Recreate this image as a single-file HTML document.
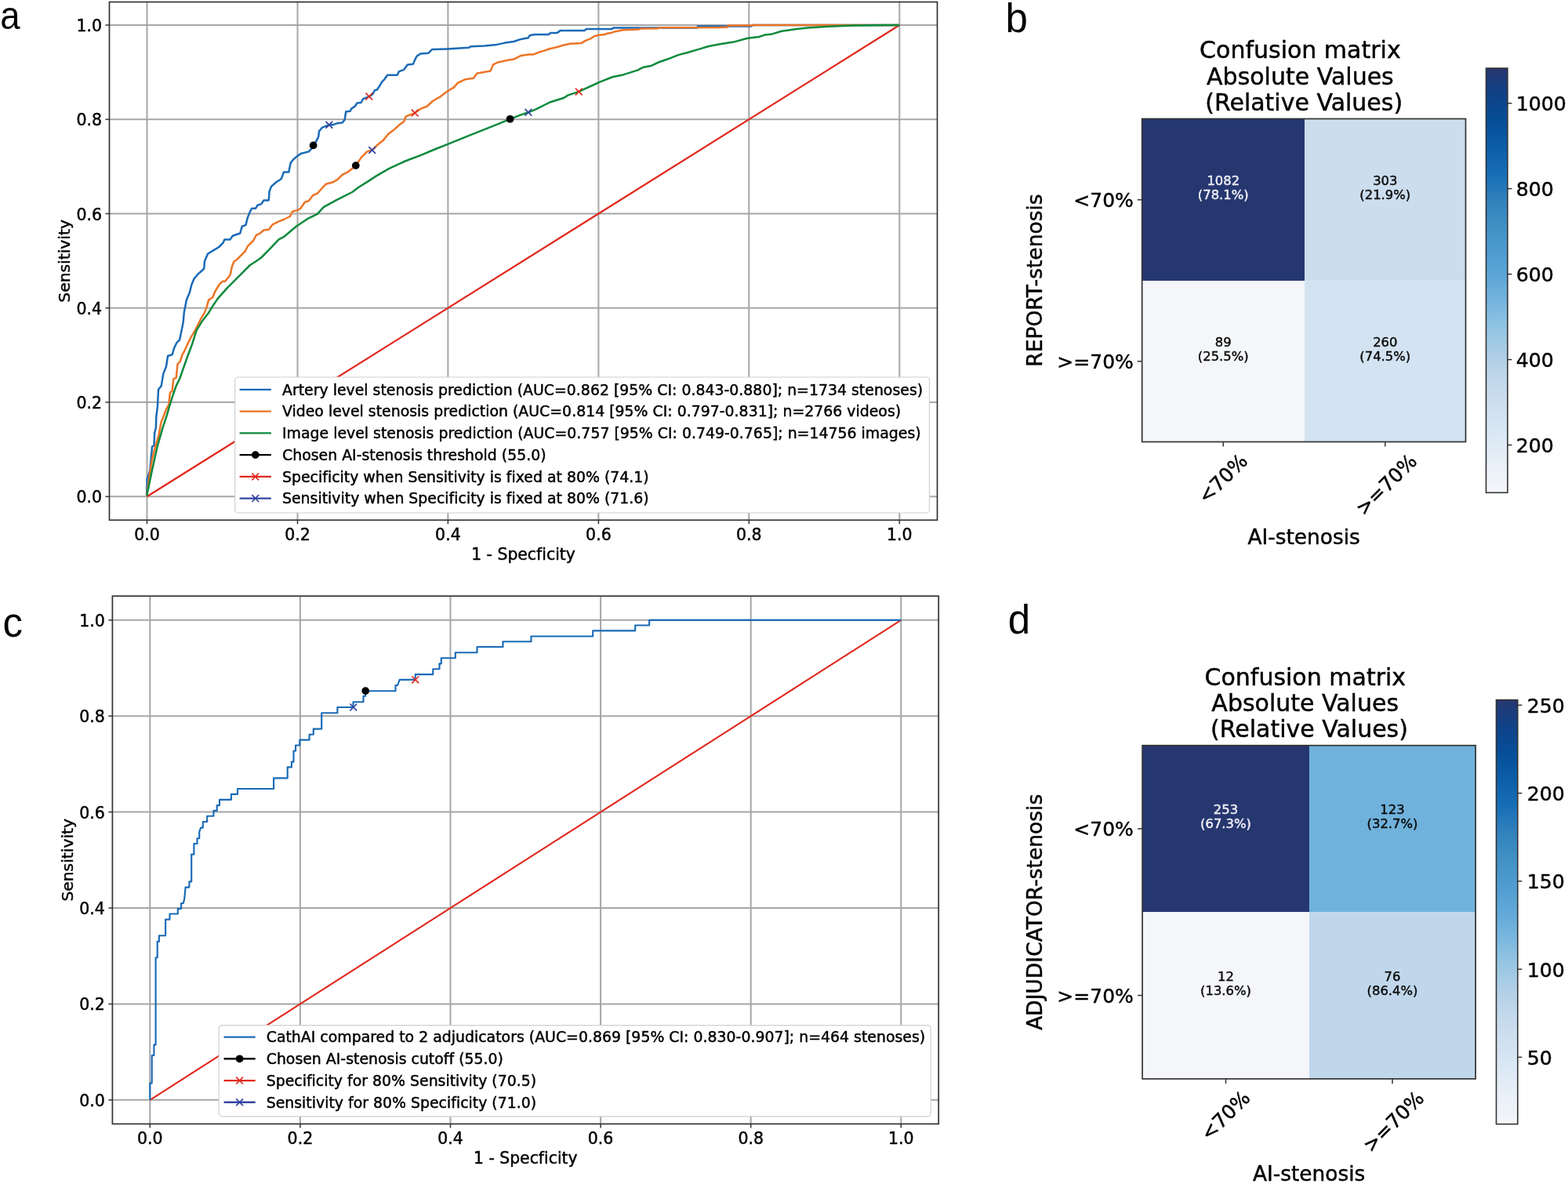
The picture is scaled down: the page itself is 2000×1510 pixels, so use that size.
<!DOCTYPE html><html><head><meta charset="utf-8"><title>Figure</title><style>html,body{margin:0;padding:0;background:#fff;}svg{display:block;font-variant-ligatures:none;font-feature-settings:"liga" 0,"clig" 0;}text{stroke:#000;stroke-width:0.45px;}text.w{stroke:#eeeef4;}.L text{stroke:none;}</style></head><body>
<svg width="2000" height="1510" viewBox="0 0 2000 1510" font-family="'DejaVu Sans', 'Liberation Sans', sans-serif">
<rect width="2000" height="1510" fill="#fff"/>
<g font-family="'Liberation Sans', Arial, sans-serif" font-size="51" class="L">
<text transform="translate(0.2 37.3) scale(0.92 1)" font-size="49.5">a</text>
<text x="1282.4" y="41.4">b</text>
<text x="3.5" y="812.4">c</text>
<text x="1285.7" y="808.3">d</text>
</g>
<g stroke="#a6a6a6" stroke-width="2.0" fill="none">
<line x1="187.5" y1="2.5" x2="187.5" y2="663.3"/>
<line x1="139.5" y1="633.3" x2="1195.5" y2="633.3"/>
<line x1="379.5" y1="2.5" x2="379.5" y2="663.3"/>
<line x1="139.5" y1="513" x2="1195.5" y2="513"/>
<line x1="571.4" y1="2.5" x2="571.4" y2="663.3"/>
<line x1="139.5" y1="392.8" x2="1195.5" y2="392.8"/>
<line x1="763.4" y1="2.5" x2="763.4" y2="663.3"/>
<line x1="139.5" y1="272.5" x2="1195.5" y2="272.5"/>
<line x1="955.3" y1="2.5" x2="955.3" y2="663.3"/>
<line x1="139.5" y1="152.3" x2="1195.5" y2="152.3"/>
<line x1="1147.3" y1="2.5" x2="1147.3" y2="663.3"/>
<line x1="139.5" y1="32" x2="1195.5" y2="32"/>
</g>
<line x1="187.5" y1="633.3" x2="1147.3" y2="32" stroke="#e2281e" stroke-width="2.3"/>
<polyline points="187.2,632.3 187.7,610.8 191.2,600.4 194.1,569.4 196.4,568.6 197.2,552.2 198.9,545.3 199.3,531.5 201,517.8 202,497.1 205.8,491.9 208.4,476.4 211.9,467.8 214.1,454 219.6,452.3 222.2,443.7 225.6,436.8 229.1,433.4 231.3,423 233.7,411 234.8,398.4 237.9,382.5 241.9,373 244.3,363.4 247.5,355.5 253,349.1 260.2,342.8 261,333.2 265,323.7 272.9,318.9 279.3,315 284.8,309.4 286.4,305.4 293.6,305.4 296.8,300.7 306.3,297.5 308.7,288.7 313.4,287.1 315.8,277.6 319,269.7 321.4,265.7 326.2,265.7 328.5,261.7 333.3,260.1 336.5,255.4 342.8,255.4 343.6,244.2 346,237.9 352.4,232.3 358.7,228.3 361.9,219.6 368.3,219.6 370.7,207.7 374.6,202.9 379.4,198.9 384.2,195.8 393.7,193.4 396.9,190.2 399.6,185.4 403.1,180.6 406.2,174.4 407,167.4 410.9,162.7 419.9,159.2 424.9,159.2 429.6,157.3 436.6,156.5 439.7,152.6 441.2,142.5 446.7,141.7 448.2,138.6 452.9,135.5 455.3,131.6 460.7,130.8 463,126.2 470.8,123.1 475.5,119.9 477.8,115.3 480.9,114.5 484,109.8 487.2,104.4 490.3,101.3 494.2,95.8 506.6,95.8 509,91.1 515.2,88.8 519.8,82.6 526.8,81.8 529.2,76.4 531.5,71.7 536.2,68.6 546.3,67.8 551,63.1 569.6,62.4 597.7,60.8 600.8,59.2 617.9,58.5 633.5,56.9 644.4,54.6 655.3,53 664.6,49.9 673.9,48.3 675.5,45.2 681.7,44.1 699.9,44.1 701.9,42.1 710.3,42.1 714.9,38.9 745.4,38.9 748,36.9 780.5,36.9 782.5,35.6 889,35.6 890,33.5 958,33.5 960,32 1147.3,32" fill="none" stroke="#1a6bb7" stroke-width="2.5" stroke-linejoin="round"/>
<polyline points="187.2,632.3 190.3,609 193.8,586.6 198.1,569.4 202.4,555.6 205.5,538.4 208.4,531.5 211.9,522.1 215.3,516 216.2,507.4 217,500.5 219.6,498.8 221.3,483.3 224.8,481.6 226.5,464.4 229.9,460.9 232.5,452.3 235.1,448 239.4,438.6 243.7,429.9 248.9,421.3 253.2,412.7 256.6,405.8 260.9,398.9 263.5,392.1 266.1,382.6 271.3,379.3 273.7,373 279.3,363.4 284,358.7 287.2,358.7 293.6,350.7 296,339.6 298.3,334 303.1,330.1 312.6,320.5 315.8,314.2 323,307 326.9,299.9 331.7,297.5 336.5,293.5 342.8,292.7 347.6,286.4 355.6,282.4 361.9,280 369.9,276 373,269.7 379.4,268.1 383.4,265.7 388.9,257.7 393.7,256.2 399.3,249 404.8,246.6 411.2,239.5 415.9,234.7 424.7,232.3 430.3,229.1 436.6,222.8 444.6,218.8 453.8,211.2 460.7,200.9 468.5,193.1 474.7,191.5 480.9,185.3 488.7,179.1 494.9,171.3 501.2,166.6 509,159.6 515.2,155 517.5,148.7 523,146.4 529.2,144.1 537,138.6 544.7,135.5 552.5,128.5 561.9,123.1 571.2,116 579,111.4 583.7,105.9 593,101.3 603.9,99.7 608.6,93.5 625.7,90.4 628.8,82.6 635,79.5 645.9,77.1 655.3,75.6 664.6,70.9 673.9,69.4 680.4,69.4 686.9,66.8 693.4,64.9 701.2,62.3 711.6,59.7 718.1,57.7 727.2,55.8 741.5,55.1 746.7,51.9 753.2,49.3 758.4,46 763.6,44.7 771.4,44.1 774,42.8 779.2,42.1 784.4,40.2 794.8,38.2 814.3,37.6 816.9,36.6 839,36.3 840.3,35.3 917,35 928.4,34.4 929,32.6 959.6,32.6 960,32 1147.3,32" fill="none" stroke="#ec7426" stroke-width="2.5" stroke-linejoin="round"/>
<polyline points="187.2,632.3 193.8,600.4 200.7,569.4 207.6,545.3 212.7,529.8 216.2,517.8 220.5,504 224.8,491.9 229.1,483.3 235.1,466.1 239.4,454 244.6,440.3 250.6,421.3 257.5,410.1 266.1,398.9 271.3,390.4 277.7,380.9 290.4,366.6 304.7,352.3 319,338 325.4,334 333.3,328.5 342.8,318.9 355.6,305.4 361.9,302.2 377.8,288.7 392.1,279.2 404.8,272.8 412.8,264.1 428.7,255.4 436.6,251.4 449.3,245 456.5,239.5 462,236 471.6,229.9 480,224.4 496.5,214.9 516.7,205.5 537,197.8 555.6,190 571.2,183.8 594.6,174.4 617.9,165.1 633.5,158.9 650.6,151.8 664.6,146.4 673.9,143.3 683,139.6 701.2,130.5 719.4,124.7 724.6,121.4 738.3,116.9 748,112.3 763.6,105.2 781.8,98 792.2,96.1 813,89.6 820.8,85.7 831.2,83.7 839,79.8 852,75.3 865,70.1 878,66.8 891,62.9 904,59 917,56.4 935.6,53.6 953.6,48.8 968,47 975.2,44.6 984.8,43.4 996.8,39.8 1016,37 1030,35.6 1045,34.6 1058,33.8 1076,33 1090,32.6 1112,32.2 1147.3,32" fill="none" stroke="#0d8a3c" stroke-width="2.5" stroke-linejoin="round"/>
<circle cx="399.6" cy="185.4" r="4.9" fill="#000"/>
<circle cx="453.8" cy="211.1" r="4.9" fill="#000"/>
<circle cx="650.6" cy="151.8" r="4.9" fill="#000"/>
<path d="M466.4 118.7L475.2 127.5M466.4 127.5L475.2 118.7" stroke="#e2281e" stroke-width="1.7" fill="none"/>
<path d="M524.8 139.7L533.6 148.5M524.8 148.5L533.6 139.7" stroke="#e2281e" stroke-width="1.7" fill="none"/>
<path d="M733.9 112.5L742.7 121.3M733.9 121.3L742.7 112.5" stroke="#e2281e" stroke-width="1.7" fill="none"/>
<path d="M415.5 154.8L424.3 163.6M415.5 163.6L424.3 154.8" stroke="#3445a0" stroke-width="1.7" fill="none"/>
<path d="M470.3 187.1L479.1 195.9M470.3 195.9L479.1 187.1" stroke="#3445a0" stroke-width="1.7" fill="none"/>
<path d="M669.5 138.9L678.3 147.7M669.5 147.7L678.3 138.9" stroke="#3445a0" stroke-width="1.7" fill="none"/>
<rect x="299.7" y="481" width="885.8" height="173" rx="4" ry="4" fill="#fff" fill-opacity="1" stroke="#d0d0d0" stroke-width="1.2"/>
<line x1="305.6" y1="496.9" x2="345.9" y2="496.9" stroke="#1a6bb7" stroke-width="2.4"/>
<text x="360" y="503.7" font-size="18.9">Artery level stenosis prediction (AUC=0.862 [95% CI: 0.843-0.880]; n=1734 stenoses)</text>
<line x1="305.6" y1="524.6" x2="345.9" y2="524.6" stroke="#ec7426" stroke-width="2.4"/>
<text x="360" y="531.4" font-size="18.9">Video level stenosis prediction (AUC=0.814 [95% CI: 0.797-0.831]; n=2766 videos)</text>
<line x1="305.6" y1="552.4" x2="345.9" y2="552.4" stroke="#0d8a3c" stroke-width="2.4"/>
<text x="360" y="559.2" font-size="18.9">Image level stenosis prediction (AUC=0.757 [95% CI: 0.749-0.765]; n=14756 images)</text>
<line x1="305.6" y1="580.1" x2="345.9" y2="580.1" stroke="#000" stroke-width="2.4"/>
<circle cx="325.8" cy="580.1" r="4.9" fill="#000"/>
<text x="360" y="586.9" font-size="18.9">Chosen AI-stenosis threshold (55.0)</text>
<line x1="305.6" y1="607.9" x2="345.9" y2="607.9" stroke="#e2281e" stroke-width="2.4"/>
<path d="M321.4 603.5L330.1 612.3M321.4 612.3L330.1 603.5" stroke="#e2281e" stroke-width="1.7" fill="none"/>
<text x="360" y="614.7" font-size="18.9">Specificity when Sensitivity is fixed at 80% (74.1)</text>
<line x1="305.6" y1="635.6" x2="345.9" y2="635.6" stroke="#3445a0" stroke-width="2.4"/>
<path d="M321.4 631.2L330.1 640M321.4 640L330.1 631.2" stroke="#3445a0" stroke-width="1.7" fill="none"/>
<text x="360" y="642.4" font-size="18.9">Sensitivity when Specificity is fixed at 80% (71.6)</text>
<rect x="139.5" y="2.5" width="1056" height="660.8" fill="none" stroke="#333" stroke-width="1.7"/>
<g stroke="#333" stroke-width="1.5">
<line x1="187.5" y1="663.3" x2="187.5" y2="668.3"/>
<line x1="134.5" y1="633.3" x2="139.5" y2="633.3"/>
<line x1="379.5" y1="663.3" x2="379.5" y2="668.3"/>
<line x1="134.5" y1="513" x2="139.5" y2="513"/>
<line x1="571.4" y1="663.3" x2="571.4" y2="668.3"/>
<line x1="134.5" y1="392.8" x2="139.5" y2="392.8"/>
<line x1="763.4" y1="663.3" x2="763.4" y2="668.3"/>
<line x1="134.5" y1="272.5" x2="139.5" y2="272.5"/>
<line x1="955.3" y1="663.3" x2="955.3" y2="668.3"/>
<line x1="134.5" y1="152.3" x2="139.5" y2="152.3"/>
<line x1="1147.3" y1="663.3" x2="1147.3" y2="668.3"/>
<line x1="134.5" y1="32" x2="139.5" y2="32"/>
</g>
<g font-size="20.5">
<text x="187.5" y="688.6" text-anchor="middle">0.0</text>
<text x="130" y="641.3" text-anchor="end">0.0</text>
<text x="379.5" y="688.6" text-anchor="middle">0.2</text>
<text x="130" y="521" text-anchor="end">0.2</text>
<text x="571.4" y="688.6" text-anchor="middle">0.4</text>
<text x="130" y="400.8" text-anchor="end">0.4</text>
<text x="763.4" y="688.6" text-anchor="middle">0.6</text>
<text x="130" y="280.5" text-anchor="end">0.6</text>
<text x="955.3" y="688.6" text-anchor="middle">0.8</text>
<text x="130" y="160.3" text-anchor="end">0.8</text>
<text x="1147.3" y="688.6" text-anchor="middle">1.0</text>
<text x="130" y="40" text-anchor="end">1.0</text>
</g>
<text x="667.5" y="713.6" text-anchor="middle" font-size="20.4">1 - Specficity</text>
<text transform="translate(88.6 332.9) rotate(-90)" text-anchor="middle" font-size="20.3">Sensitivity</text>
<g stroke="#a6a6a6" stroke-width="2.0" fill="none">
<line x1="191.3" y1="760.2" x2="191.3" y2="1433.4"/>
<line x1="143.4" y1="1402.8" x2="1197.2" y2="1402.8"/>
<line x1="382.9" y1="760.2" x2="382.9" y2="1433.4"/>
<line x1="143.4" y1="1280.4" x2="1197.2" y2="1280.4"/>
<line x1="574.5" y1="760.2" x2="574.5" y2="1433.4"/>
<line x1="143.4" y1="1158" x2="1197.2" y2="1158"/>
<line x1="766.1" y1="760.2" x2="766.1" y2="1433.4"/>
<line x1="143.4" y1="1035.6" x2="1197.2" y2="1035.6"/>
<line x1="957.7" y1="760.2" x2="957.7" y2="1433.4"/>
<line x1="143.4" y1="913.2" x2="1197.2" y2="913.2"/>
<line x1="1149.3" y1="760.2" x2="1149.3" y2="1433.4"/>
<line x1="143.4" y1="790.8" x2="1197.2" y2="790.8"/>
</g>
<line x1="191.3" y1="1402.8" x2="1149.3" y2="790.8" stroke="#e2281e" stroke-width="2.1"/>
<polyline points="191.3,1402.8 191.3,1381.3 193.7,1381.3 193.7,1346 196.4,1346 196.4,1332.4 198.6,1332.4 198.6,1221.2 200.7,1221.2 200.7,1200.8 202.9,1200.8 202.9,1193.2 211.1,1193.2 211.1,1172.6 216.5,1172.6 216.5,1165.5 226.8,1165.5 226.8,1158.8 231.1,1158.8 231.1,1152 233.8,1152 235.2,1146.5 236.6,1131.6 241.4,1131.6 241.4,1124.3 244.2,1124.3 244.2,1089.6 247.4,1089.6 247.4,1076 251.5,1076 251.5,1069.2 254.2,1069.2 254.2,1061.1 256.1,1055.6 258.8,1055.6 258.8,1048 264.2,1048 264.2,1040.7 272.4,1040.7 272.4,1033.9 276.7,1033.9 276.7,1027.1 280,1027.1 280,1019.8 294.9,1019.8 294.9,1012.8 303,1012.8 303,1006 349.1,1006 349.1,992.4 366.7,992.4 366.7,978.4 371.9,978.4 371.9,971.6 374.5,971.6 374.5,957.6 377.1,957.6 377.1,950.5 382.3,950.5 382.3,943.6 394.6,943.6 394.6,936.7 399.8,936.7 399.8,929.6 410.2,929.6 410.2,909.2 430.4,909.2 430.4,902 450.5,902 450.5,895.2 463.5,895.2 463.5,887.7 466.1,887.7 466.1,881.2 504.5,881.2 504.5,874 507.1,874 509.7,866.9 529.8,866.9 529.8,860.1 552.3,860.1 552.3,853.2 560.5,853.2 560.5,846.4 562.8,846.4 562.8,839.2 580.8,839.2 580.8,832.2 608.5,832.2 608.5,825 641.5,825 641.5,818.2 677.5,818.2 677.5,811.5 756.2,811.5 756.2,804.3 810.2,804.3 810.2,797.5 828.2,797.5 828.2,790.8 1149.3,790.8" fill="none" stroke="#1a6bb7" stroke-width="2.15" stroke-linejoin="round"/>
<circle cx="466.2" cy="881.1" r="4.9" fill="#000"/>
<path d="M525.4 862.5L534.2 871.3M525.4 871.3L534.2 862.5" stroke="#e2281e" stroke-width="1.7" fill="none"/>
<path d="M446.4 897.5L455.2 906.3M446.4 906.3L455.2 897.5" stroke="#3445a0" stroke-width="1.7" fill="none"/>
<rect x="279.2" y="1307.6" width="907.9" height="116.2" rx="4" ry="4" fill="#fff" fill-opacity="1" stroke="#d0d0d0" stroke-width="1.2"/>
<line x1="285.6" y1="1322.6" x2="325.7" y2="1322.6" stroke="#1a6bb7" stroke-width="2.4"/>
<text x="339.7" y="1329.4" font-size="18.9">CathAI compared to 2 adjudicators (AUC=0.869 [95% CI: 0.830-0.907]; n=464 stenoses)</text>
<line x1="285.6" y1="1350.3" x2="325.7" y2="1350.3" stroke="#000" stroke-width="2.4"/>
<circle cx="305.6" cy="1350.3" r="4.9" fill="#000"/>
<text x="339.7" y="1357.1" font-size="18.9">Chosen AI-stenosis cutoff (55.0)</text>
<line x1="285.6" y1="1378.1" x2="325.7" y2="1378.1" stroke="#e2281e" stroke-width="2.4"/>
<path d="M301.2 1373.7L310 1382.5M301.2 1382.5L310 1373.7" stroke="#e2281e" stroke-width="1.7" fill="none"/>
<text x="339.7" y="1384.9" font-size="18.9">Specificity for 80% Sensitivity (70.5)</text>
<line x1="285.6" y1="1405.8" x2="325.7" y2="1405.8" stroke="#3445a0" stroke-width="2.4"/>
<path d="M301.2 1401.4L310 1410.2M301.2 1410.2L310 1401.4" stroke="#3445a0" stroke-width="1.7" fill="none"/>
<text x="339.7" y="1412.6" font-size="18.9">Sensitivity for 80% Specificity (71.0)</text>
<rect x="143.4" y="760.2" width="1053.8" height="673.2" fill="none" stroke="#333" stroke-width="1.7"/>
<g stroke="#333" stroke-width="1.5">
<line x1="191.3" y1="1433.4" x2="191.3" y2="1438.4"/>
<line x1="138.4" y1="1402.8" x2="143.4" y2="1402.8"/>
<line x1="382.9" y1="1433.4" x2="382.9" y2="1438.4"/>
<line x1="138.4" y1="1280.4" x2="143.4" y2="1280.4"/>
<line x1="574.5" y1="1433.4" x2="574.5" y2="1438.4"/>
<line x1="138.4" y1="1158" x2="143.4" y2="1158"/>
<line x1="766.1" y1="1433.4" x2="766.1" y2="1438.4"/>
<line x1="138.4" y1="1035.6" x2="143.4" y2="1035.6"/>
<line x1="957.7" y1="1433.4" x2="957.7" y2="1438.4"/>
<line x1="138.4" y1="913.2" x2="143.4" y2="913.2"/>
<line x1="1149.3" y1="1433.4" x2="1149.3" y2="1438.4"/>
<line x1="138.4" y1="790.8" x2="143.4" y2="790.8"/>
</g>
<g font-size="20.5">
<text x="191.3" y="1458.6" text-anchor="middle">0.0</text>
<text x="133.9" y="1410.8" text-anchor="end">0.0</text>
<text x="382.9" y="1458.6" text-anchor="middle">0.2</text>
<text x="133.9" y="1288.4" text-anchor="end">0.2</text>
<text x="574.5" y="1458.6" text-anchor="middle">0.4</text>
<text x="133.9" y="1166" text-anchor="end">0.4</text>
<text x="766.1" y="1458.6" text-anchor="middle">0.6</text>
<text x="133.9" y="1043.6" text-anchor="end">0.6</text>
<text x="957.7" y="1458.6" text-anchor="middle">0.8</text>
<text x="133.9" y="921.2" text-anchor="end">0.8</text>
<text x="1149.3" y="1458.6" text-anchor="middle">1.0</text>
<text x="133.9" y="798.8" text-anchor="end">1.0</text>
</g>
<text x="670.3" y="1483.6" text-anchor="middle" font-size="20.4">1 - Specficity</text>
<text transform="translate(93.2 1096.8) rotate(-90)" text-anchor="middle" font-size="20.3">Sensitivity</text>
<rect x="1456.7" y="151.5" width="207.3" height="206.6" fill="#263770"/>
<rect x="1664" y="151.5" width="205.5" height="206.6" fill="#ccddee"/>
<rect x="1456.7" y="358.1" width="207.3" height="205.4" fill="#f4f6f9"/>
<rect x="1664" y="358.1" width="205.5" height="205.4" fill="#d4e3f1"/>
<text class="w" x="1560.3" y="236.2" text-anchor="middle" font-size="16.4" fill="#eeeef4">1082</text>
<text class="w" x="1560.3" y="254.2" text-anchor="middle" font-size="16.4" fill="#eeeef4">(78.1%)</text>
<text x="1766.8" y="236.2" text-anchor="middle" font-size="16.4" fill="#111">303</text>
<text x="1766.8" y="254.2" text-anchor="middle" font-size="16.4" fill="#111">(21.9%)</text>
<text x="1560.3" y="442.2" text-anchor="middle" font-size="16.4" fill="#111">89</text>
<text x="1560.3" y="460.2" text-anchor="middle" font-size="16.4" fill="#111">(25.5%)</text>
<text x="1766.8" y="442.2" text-anchor="middle" font-size="16.4" fill="#111">260</text>
<text x="1766.8" y="460.2" text-anchor="middle" font-size="16.4" fill="#111">(74.5%)</text>
<rect x="1456.7" y="151.5" width="412.8" height="412" fill="none" stroke="#333" stroke-width="1.7"/>
<g stroke="#333" stroke-width="1.5">
<line x1="1560.3" y1="563.5" x2="1560.3" y2="569.5"/>
<line x1="1766.8" y1="563.5" x2="1766.8" y2="569.5"/>
<line x1="1450.7" y1="254.8" x2="1456.7" y2="254.8"/>
<line x1="1450.7" y1="460.8" x2="1456.7" y2="460.8"/>
</g>
<text x="1445.8" y="264.1" text-anchor="end" font-size="25">&lt;70%</text>
<text x="1445.8" y="470.1" text-anchor="end" font-size="25">&gt;=70%</text>
<text transform="translate(1559.3 610) rotate(-45)" text-anchor="middle" font-size="25" dy="9.1">&lt;70%</text>
<text transform="translate(1767.8 617.8) rotate(-45)" text-anchor="middle" font-size="25" dy="9.1">&gt;=70%</text>
<text x="1663.1" y="694.3" text-anchor="middle" font-size="26.4">AI-stenosis</text>
<text transform="translate(1328.6 357.5) rotate(-90)" text-anchor="middle" font-size="26.5">REPORT-stenosis</text>
<text x="1658.4" y="74.4" text-anchor="middle" font-size="30">Confusion matrix</text>
<text x="1658.4" y="108" text-anchor="middle" font-size="30">Absolute Values</text>
<text x="1663.2" y="141.4" text-anchor="middle" font-size="30">(Relative Values)</text>
<defs><linearGradient id="gb" x1="0" y1="0" x2="0" y2="1"><stop offset="0.0000" stop-color="#263770"/><stop offset="0.0625" stop-color="#104288"/><stop offset="0.1250" stop-color="#064e98"/><stop offset="0.1875" stop-color="#0c5ea8"/><stop offset="0.2500" stop-color="#186eb6"/><stop offset="0.3125" stop-color="#3181bc"/><stop offset="0.3750" stop-color="#4191c5"/><stop offset="0.4375" stop-color="#509cd0"/><stop offset="0.5000" stop-color="#60a8d8"/><stop offset="0.5625" stop-color="#7ab8df"/><stop offset="0.6250" stop-color="#98c7e3"/><stop offset="0.6875" stop-color="#b2d0e6"/><stop offset="0.7500" stop-color="#c5d9ec"/><stop offset="0.8125" stop-color="#d1e1f0"/><stop offset="0.8750" stop-color="#dde9f5"/><stop offset="0.9375" stop-color="#e9f0f8"/><stop offset="1.0000" stop-color="#f4f6f9"/></linearGradient></defs>
<rect x="1895.5" y="87" width="27.4" height="541.3" fill="url(#gb)" stroke="#333" stroke-width="1.6"/>
<g stroke="#333" stroke-width="1.5">
<line x1="1922.9" y1="567.5" x2="1928.4" y2="567.5"/>
<line x1="1922.9" y1="458.6" x2="1928.4" y2="458.6"/>
<line x1="1922.9" y1="349.6" x2="1928.4" y2="349.6"/>
<line x1="1922.9" y1="240.6" x2="1928.4" y2="240.6"/>
<line x1="1922.9" y1="131.7" x2="1928.4" y2="131.7"/>
</g>
<text x="1933.7" y="577.1" font-size="25.2">200</text>
<text x="1933.7" y="468.2" font-size="25.2">400</text>
<text x="1933.7" y="359.2" font-size="25.2">600</text>
<text x="1933.7" y="250.2" font-size="25.2">800</text>
<text x="1933.7" y="141.3" font-size="25.2">1000</text>
<rect x="1457.1" y="950.7" width="212.9" height="212.4" fill="#263770"/>
<rect x="1670" y="950.7" width="212.1" height="212.4" fill="#70b2dc"/>
<rect x="1457.1" y="1163.1" width="212.9" height="212.8" fill="#f4f6f9"/>
<rect x="1670" y="1163.1" width="212.1" height="212.8" fill="#c0d7eb"/>
<text class="w" x="1563.5" y="1038.3" text-anchor="middle" font-size="16.4" fill="#eeeef4">253</text>
<text class="w" x="1563.5" y="1056.3" text-anchor="middle" font-size="16.4" fill="#eeeef4">(67.3%)</text>
<text x="1776" y="1038.3" text-anchor="middle" font-size="16.4" fill="#111">123</text>
<text x="1776" y="1056.3" text-anchor="middle" font-size="16.4" fill="#111">(32.7%)</text>
<text x="1563.5" y="1250.9" text-anchor="middle" font-size="16.4" fill="#111">12</text>
<text x="1563.5" y="1268.9" text-anchor="middle" font-size="16.4" fill="#111">(13.6%)</text>
<text x="1776" y="1250.9" text-anchor="middle" font-size="16.4" fill="#111">76</text>
<text x="1776" y="1268.9" text-anchor="middle" font-size="16.4" fill="#111">(86.4%)</text>
<rect x="1457.1" y="950.7" width="425" height="425.2" fill="none" stroke="#333" stroke-width="1.7"/>
<g stroke="#333" stroke-width="1.5">
<line x1="1563.5" y1="1375.9" x2="1563.5" y2="1381.9"/>
<line x1="1776" y1="1375.9" x2="1776" y2="1381.9"/>
<line x1="1451.1" y1="1056.9" x2="1457.1" y2="1056.9"/>
<line x1="1451.1" y1="1269.5" x2="1457.1" y2="1269.5"/>
</g>
<text x="1445.8" y="1066.2" text-anchor="end" font-size="25">&lt;70%</text>
<text x="1445.8" y="1278.8" text-anchor="end" font-size="25">&gt;=70%</text>
<text transform="translate(1562.5 1422.4) rotate(-45)" text-anchor="middle" font-size="25" dy="9.1">&lt;70%</text>
<text transform="translate(1777 1430.2) rotate(-45)" text-anchor="middle" font-size="25" dy="9.1">&gt;=70%</text>
<text x="1669.6" y="1506" text-anchor="middle" font-size="26.4">AI-stenosis</text>
<text transform="translate(1328.5 1163.3) rotate(-90)" text-anchor="middle" font-size="26.5">ADJUDICATOR-stenosis</text>
<text x="1664.8" y="873.9" text-anchor="middle" font-size="30">Confusion matrix</text>
<text x="1664.7" y="907.2" text-anchor="middle" font-size="30">Absolute Values</text>
<text x="1670" y="940.3" text-anchor="middle" font-size="30">(Relative Values)</text>
<defs><linearGradient id="gd" x1="0" y1="0" x2="0" y2="1"><stop offset="0.0000" stop-color="#263770"/><stop offset="0.0625" stop-color="#104288"/><stop offset="0.1250" stop-color="#064e98"/><stop offset="0.1875" stop-color="#0c5ea8"/><stop offset="0.2500" stop-color="#186eb6"/><stop offset="0.3125" stop-color="#3181bc"/><stop offset="0.3750" stop-color="#4191c5"/><stop offset="0.4375" stop-color="#509cd0"/><stop offset="0.5000" stop-color="#60a8d8"/><stop offset="0.5625" stop-color="#7ab8df"/><stop offset="0.6250" stop-color="#98c7e3"/><stop offset="0.6875" stop-color="#b2d0e6"/><stop offset="0.7500" stop-color="#c5d9ec"/><stop offset="0.8125" stop-color="#d1e1f0"/><stop offset="0.8750" stop-color="#dde9f5"/><stop offset="0.9375" stop-color="#e9f0f8"/><stop offset="1.0000" stop-color="#f4f6f9"/></linearGradient></defs>
<rect x="1908.5" y="892.6" width="27.3" height="541" fill="url(#gd)" stroke="#333" stroke-width="1.6"/>
<g stroke="#333" stroke-width="1.5">
<line x1="1935.8" y1="1348.3" x2="1941.3" y2="1348.3"/>
<line x1="1935.8" y1="1236.1" x2="1941.3" y2="1236.1"/>
<line x1="1935.8" y1="1123.8" x2="1941.3" y2="1123.8"/>
<line x1="1935.8" y1="1011.6" x2="1941.3" y2="1011.6"/>
<line x1="1935.8" y1="899.3" x2="1941.3" y2="899.3"/>
</g>
<text x="1947.7" y="1357.9" font-size="25.2">50</text>
<text x="1947.7" y="1245.7" font-size="25.2">100</text>
<text x="1947.7" y="1133.4" font-size="25.2">150</text>
<text x="1947.7" y="1021.2" font-size="25.2">200</text>
<text x="1947.7" y="908.9" font-size="25.2">250</text>
</svg></body></html>
